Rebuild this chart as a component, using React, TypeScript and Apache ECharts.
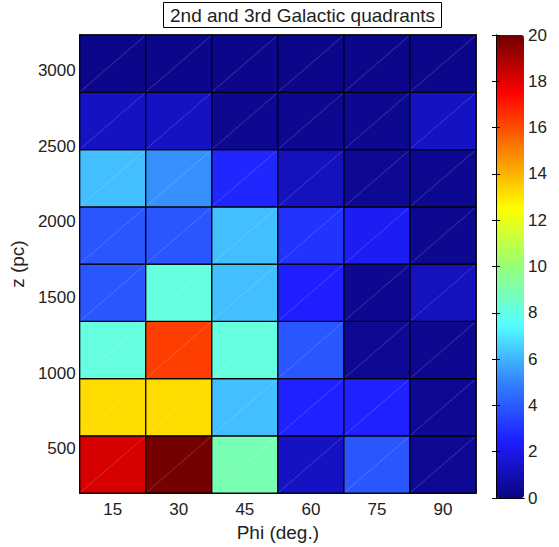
import React, { useEffect, useRef } from "react";
import * as echarts from "echarts";

// Column categories (Phi, deg.)
const phiLabels = ["15", "30", "45", "60", "75", "90"];
// z bin edges (pc), bottom to top
const zEdges = [208, 586, 964, 1342, 1720, 2098, 2476, 2855, 3233];
// Cell values, one array per z bin (bottom to top), columns follow phiLabels
const row1 = [18.2, 19.9, 8.9, 1.3, 3.9, 0.4];
const row2 = [13.2, 13.2, 6.2, 2.6, 2.6, 0.4];
const row3 = [8.1, 16.3, 8.1, 3.9, 0.4, 0.3];
const row4 = [3.9, 8.1, 6.2, 2.5, 0.3, 1.2];
const row5 = [3.9, 3.9, 6.2, 3.0, 2.3, 0.3];
const row6 = [6.2, 5.3, 2.7, 1.2, 0.4, 0.3];
const row7 = [1.3, 1.3, 0.3, 0.3, 0.3, 1.3];
const row8 = [0.2, 0.2, 0.2, 0.2, 0.2, 0.2];
const rows = [row1, row2, row3, row4, row5, row6, row7, row8];

// Colour scale range
const scaleMin = 0;
const scaleMax = 20;
const jetColors = [
  "#0a0580",
  "#1e1eff",
  "#3282ff",
  "#55ffff",
  "#96ff78",
  "#ffff00",
  "#fa8200",
  "#ff0000",
  "#6e0000",
];

const FONT = "Liberation Sans, Arial, Helvetica, sans-serif";

export default function App() {
  const ref = useRef<HTMLDivElement>(null);

  useEffect(() => {
    if (!ref.current) return;
    const chart = echarts.init(ref.current, null, { renderer: "svg" });

    const data: number[][] = [];
    rows.forEach((row, r) => {
      row.forEach((v, c) => {
        data.push([c, zEdges[r], zEdges[r + 1], v]);
      });
    });

    const hiddenAxisParts = {
      axisTick: { show: false },
      axisLabel: { show: false },
      splitLine: { show: false },
    };

    chart.setOption({
      animation: false,
      textStyle: { fontFamily: FONT },
      title: {
        text: "2nd and 3rd Galactic quadrants",
        left: 163,
        top: 2,
        padding: [3, 7],
        borderColor: "#000",
        borderWidth: 1,
        textStyle: {
          fontFamily: FONT,
          fontSize: 19,
          fontWeight: "normal",
          color: "#222",
          lineHeight: 20,
        },
      },
      grid: [
        { left: 79, top: 35, width: 397, height: 463 },
        { left: 496, top: 35, width: 28, height: 463 },
      ],
      xAxis: [
        {
          type: "category",
          gridIndex: 0,
          data: phiLabels,
          position: "bottom",
          name: "Phi (deg.)",
          nameLocation: "middle",
          nameGap: 23,
          nameTextStyle: { fontFamily: FONT, fontSize: 19, color: "#222" },
          axisLine: { lineStyle: { color: "#000", width: 1.5 } },
          axisTick: { show: false },
          axisLabel: { fontFamily: FONT, fontSize: 17, color: "#222", margin: 8 },
          splitLine: { show: false },
        },
        {
          type: "category",
          gridIndex: 0,
          data: phiLabels,
          position: "top",
          axisLine: { lineStyle: { color: "#000", width: 1.5 } },
          ...hiddenAxisParts,
        },
        {
          type: "value",
          gridIndex: 1,
          min: 0,
          max: 1,
          position: "bottom",
          axisLine: { lineStyle: { color: "#000", width: 1 } },
          z: 10,
          ...hiddenAxisParts,
        },
        {
          type: "value",
          gridIndex: 1,
          min: 0,
          max: 1,
          position: "top",
          axisLine: { lineStyle: { color: "#000", width: 1 } },
          z: 10,
          ...hiddenAxisParts,
        },
      ],
      yAxis: [
        {
          type: "value",
          gridIndex: 0,
          min: zEdges[0],
          max: zEdges[zEdges.length - 1],
          splitNumber: 6,
          position: "left",
          name: "z (pc)",
          nameLocation: "middle",
          nameGap: 45,
          nameTextStyle: { fontFamily: FONT, fontSize: 19, color: "#222" },
          axisLine: { show: true, lineStyle: { color: "#000", width: 1.5 } },
          axisTick: { show: false },
          axisLabel: {
            fontFamily: FONT,
            fontSize: 17,
            color: "#222",
            margin: 4,
            formatter: (v: number) => (v % 500 === 0 ? String(v) : ""),
          },
          splitLine: { show: false },
        },
        {
          type: "value",
          gridIndex: 0,
          min: zEdges[0],
          max: zEdges[zEdges.length - 1],
          position: "right",
          axisLine: { show: true, lineStyle: { color: "#000", width: 1.5 } },
          ...hiddenAxisParts,
        },
        {
          type: "value",
          gridIndex: 1,
          min: scaleMin,
          max: scaleMax,
          interval: 2,
          position: "right",
          z: 10,
          axisLine: { show: true, lineStyle: { color: "#000", width: 1 } },
          axisTick: { show: true, inside: true, length: 4, lineStyle: { color: "#000" } },
          axisLabel: { fontFamily: FONT, fontSize: 17, color: "#222", margin: 4 },
          splitLine: { show: false },
        },
        {
          type: "value",
          gridIndex: 1,
          min: scaleMin,
          max: scaleMax,
          interval: 2,
          position: "left",
          z: 10,
          axisLine: { show: true, lineStyle: { color: "#000", width: 1 } },
          axisTick: { show: true, inside: true, length: 4, lineStyle: { color: "#000" } },
          axisLabel: { show: false },
          splitLine: { show: false },
        },
      ],
      visualMap: {
        type: "continuous",
        min: scaleMin,
        max: scaleMax,
        dimension: 3,
        seriesIndex: 0,
        inRange: { color: jetColors },
        orient: "vertical",
        left: 496,
        top: 35,
        itemWidth: 28,
        itemHeight: 463,
        padding: 0,
        calculable: false,
        hoverLink: false,
        realtime: false,
        z: 1,
      },
      series: [
        {
          type: "custom",
          xAxisIndex: 0,
          yAxisIndex: 0,
          encode: { x: 0, y: [1, 2] },
          data,
          renderItem: (params: any, api: any) => {
            const c = api.value(0);
            const lo = api.coord([c, api.value(1)]);
            const hi = api.coord([c, api.value(2)]);
            const w = api.size([1, 0])[0];
            const x0 = lo[0] - w / 2;
            const y0 = hi[1];
            const h = lo[1] - hi[1];
            return {
              type: "group",
              children: [
                {
                  type: "rect",
                  shape: { x: x0, y: y0, width: w, height: h },
                  style: { fill: api.visual("color"), stroke: "#000", lineWidth: 1.2 },
                },
                {
                  type: "line",
                  shape: { x1: x0 + 1, y1: y0 + h - 1, x2: x0 + w - 1, y2: y0 + 1 },
                  style: { stroke: "rgba(255,255,255,0.3)", lineWidth: 0.6 },
                },
              ],
            };
          },
        },
      ],
    });

    return () => chart.dispose();
  }, []);

  return (
    <div
      ref={ref}
      style={{ position: "fixed", left: 0, top: 0, width: 559, height: 547, background: "#fff" }}
    />
  );
}
